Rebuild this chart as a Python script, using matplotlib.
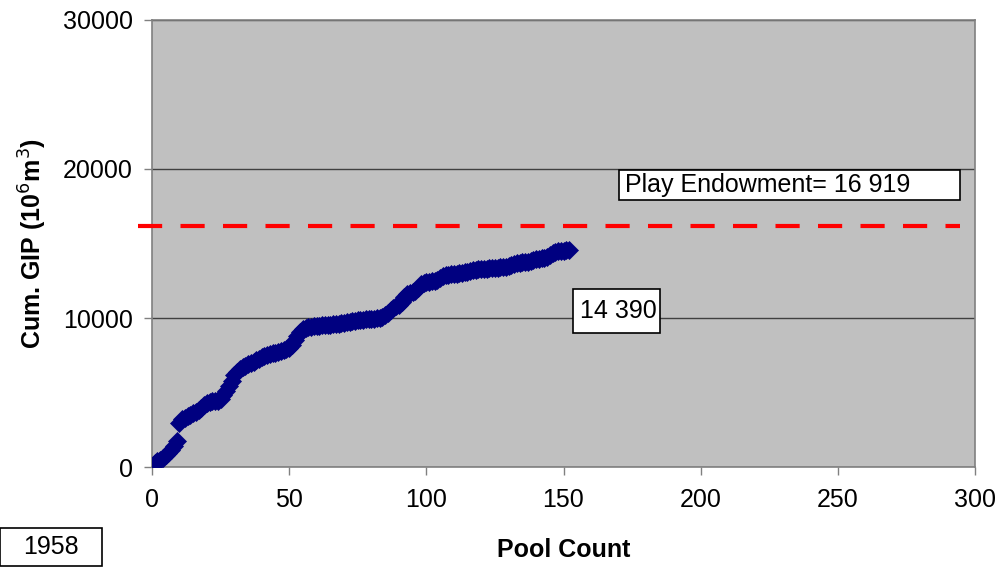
import matplotlib
matplotlib.use("Agg")
import matplotlib.pyplot as plt
from matplotlib.patches import Rectangle

plt.rcParams['font.family'] = ['Liberation Sans', 'DejaVu Sans']

# cumulative gas in place per pool (10^6 m3)
pool_count = list(range(1, 153))
cum_gip = [
    300, 380, 500, 620, 780, 950, 1150, 1400, 1750, 2950,
    3200, 3300, 3400, 3500, 3600, 3680, 3800, 3950, 4150, 4280,
    4350, 4400, 4430, 4460, 4550, 4800, 5100, 5450, 5800, 6150,
    6400, 6580, 6680, 6780, 6880, 6980, 7070, 7170, 7280, 7370,
    7430, 7500, 7560, 7620, 7680, 7720, 7770, 7830, 7900, 8000,
    8200, 8500, 8800, 9050, 9250, 9330, 9380, 9410, 9440, 9460,
    9480, 9500, 9520, 9540, 9560, 9580, 9600, 9620, 9650, 9680,
    9720, 9760, 9790, 9820, 9840, 9860, 9880, 9900, 9920, 9940,
    9960, 9990, 10030, 10100, 10200, 10350, 10550, 10700, 10800, 10900,
    11100, 11400, 11600, 11700, 11750, 11800, 12000, 12250, 12350, 12400,
    12430, 12460, 12500, 12560, 12680, 12800, 12860, 12900, 12930, 12960,
    12980, 13000, 13030, 13070, 13120, 13170, 13210, 13240, 13260, 13280,
    13300, 13320, 13340, 13360, 13370, 13380, 13390, 13400, 13420, 13460,
    13550, 13620, 13680, 13710, 13740, 13760, 13790, 13830, 13880, 13930,
    13980, 14020, 14060, 14110, 14200, 14330, 14430, 14480, 14510, 14530,
    14560, 14580,
]

endowment_line = 16170
endowment_span = [-5, 294.5]
endowment_label = "Play Endowment= 16 919"
total_label = "14 390"
year_label = "1958"

x_ticks = [0, 50, 100, 150, 200, 250, 300]
y_ticks = [0, 10000, 20000, 30000]

fig = plt.figure(figsize=(10, 5.68), dpi=100)
ax = fig.add_axes([0.152, 0.1778, 0.823, 0.787])
ax.set_facecolor('#C0C0C0')

ax.set_xlim(0, 300)
ax.set_ylim(0, 30000)
ax.set_xticks(x_ticks)
ax.set_yticks(y_ticks)
ax.tick_params(axis='both', labelsize=18, direction='out', length=6,
               width=1, color='#808080')
ax.tick_params(axis='y', pad=8)
ax.tick_params(axis='x', pad=9)
ax.yaxis.grid(True, color='#404040', linewidth=1)
ax.set_axisbelow(True)
for s in ax.spines.values():
    s.set_color('#808080')
    s.set_linewidth(1.2)

# the play endowment line
ax.plot(endowment_span, [endowment_line, endowment_line], color='#FF0000',
        linewidth=3, dashes=(5.8, 4.4), dash_capstyle='butt', clip_on=False,
        zorder=3)

# pools
ax.plot(pool_count, cum_gip, linestyle='none', marker='D', markersize=9.5,
        color='#000080', markeredgewidth=0.5, zorder=4)

ax.set_xlabel('Pool Count', fontsize=18, fontweight='bold', labelpad=19)
ax.set_ylabel('Cum. GIP (10$^6$m$^3$)', fontsize=18, fontweight='bold',
              labelpad=10)


def label_box(x0, y0, x1, y1, text, ha='center', pad=0):
    # box in pixel coords (top-left origin) of the 1000x568 figure
    W, H = 1000.0, 568.0
    rect = Rectangle((x0 / W, 1 - y1 / H), (x1 - x0) / W, (y1 - y0) / H,
                     transform=fig.transFigure, facecolor='white',
                     edgecolor='black', linewidth=1.2, zorder=5)
    fig.add_artist(rect)
    tx = (x0 + pad) / W if ha == 'left' else (x0 + x1) / 2 / W
    fig.text(tx, 1 - (y0 + y1) / 2 / H, text, ha=ha, va='center',
             fontsize=18, zorder=6)


label_box(619, 170, 960, 200, endowment_label, ha='left', pad=6)
label_box(573, 289, 660, 333, total_label, ha='left', pad=7)
label_box(0, 528, 102, 566, year_label)

fig.savefig('out.png', dpi=100)
